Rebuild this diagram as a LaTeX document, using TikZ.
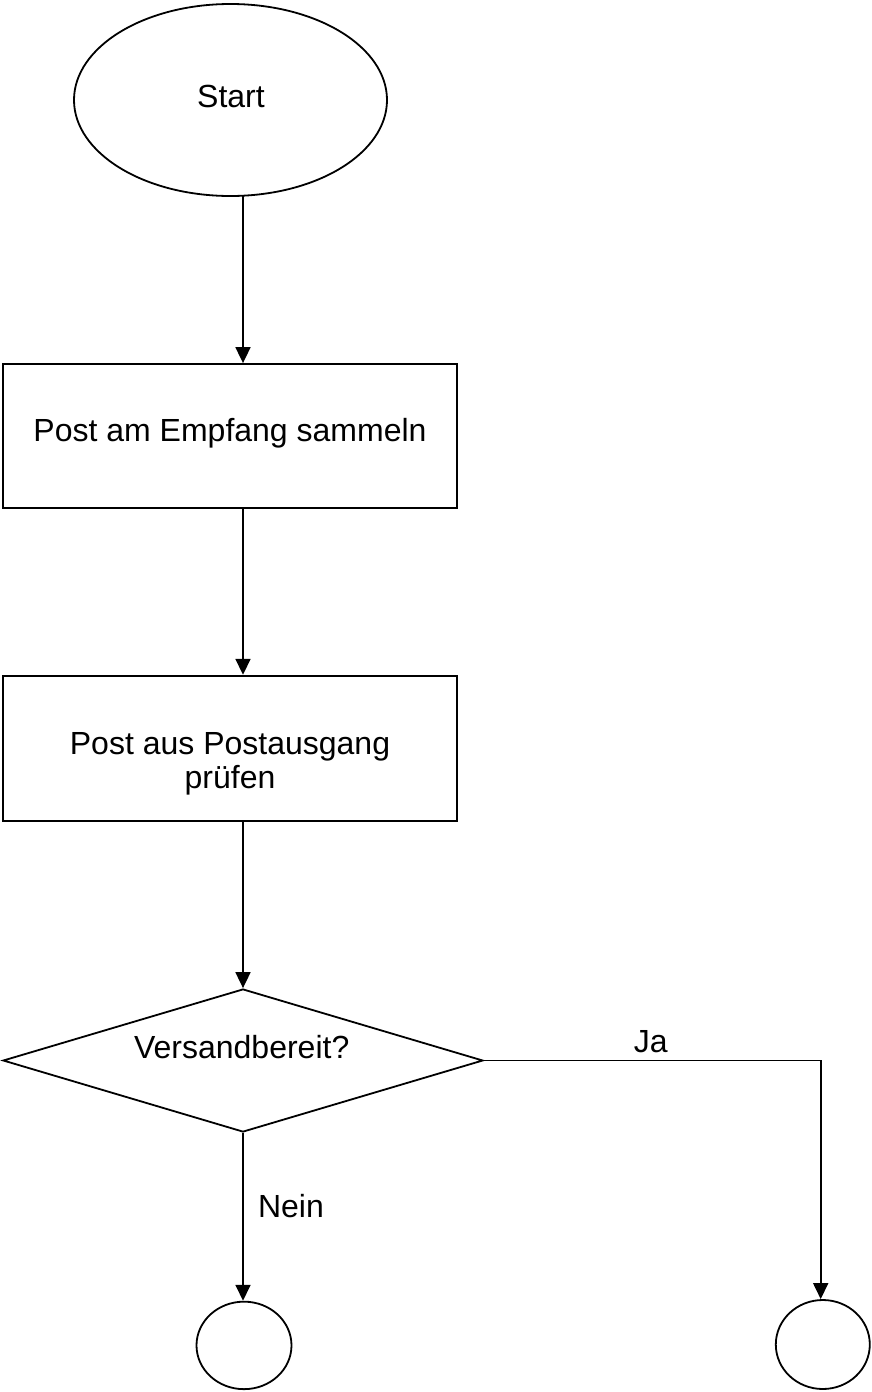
\documentclass[tikz,border=0pt]{standalone}
\usepackage{fontspec}
\setmainfont{Liberation Sans}
\usetikzlibrary{shapes.geometric,arrows.meta}
\begin{document}
\begin{tikzpicture}[x=1pt,y=-1pt,
  shapeline/.style={draw=black,line width=1.8pt},
  boxnode/.style={shapeline,rectangle,inner sep=0pt,minimum width=454pt,anchor=center},
  txt/.style={inner sep=0pt,font=\fontsize{32}{34.5}\selectfont},
  flow/.style={line width=1.8pt,-{Triangle[length=16pt,width=15pt]}}]
\useasboundingbox[fill=white] (0,0) rectangle (871,1392);
\node[shapeline,ellipse,inner sep=0pt,minimum width=313pt,minimum height=192pt] (start) at (230.5,100) {};
\node[txt,anchor=base] (starttxt) at (231,107) {Start};
\node[boxnode,minimum height=143.7pt] (collect) at (229.7,435.85) {};
\node[txt,anchor=base] (collecttxt) at (230,441.7) {Post am Empfang sammeln};
\node[boxnode,minimum height=145pt] (check) at (229.7,748.2) {};
\node[txt,align=center] (checktxt) at (230,764) {Post aus Postausgang\\prüfen};
\node[shapeline,diamond,aspect=3.36,inner sep=0pt,minimum width=480pt,minimum height=143pt] (ready) at (243,1060.5) {};
\node[txt,anchor=base] (readytxt) at (241.7,1058) {Versandbereit?};
\node[shapeline,ellipse,inner sep=0pt,minimum width=95pt,minimum height=87.5pt] (no) at (244,1345.4) {};
\node[shapeline,ellipse,inner sep=0pt,minimum width=94pt,minimum height=89pt] (yes) at (822.8,1344.5) {};
\coordinate (s0) at (243,196);
\coordinate (jc) at (820.7,1060.5);
\draw[flow] (s0) -- (s0 |- collect.north);
\draw[flow] (collect.south -| s0) -- (check.north -| s0);
\draw[flow] (check.south -| s0) -- (ready.north);
\draw[flow] (ready.south) -- (ready.south |- no.north);
\draw[flow] (ready.east) -- (jc) -- (jc |- yes.north);
\node[txt,anchor=base] (ja) at (650.8,1052) {Ja};
\node[txt,anchor=base] (nein) at (291,1217) {Nein};
\end{tikzpicture}
\end{document}
